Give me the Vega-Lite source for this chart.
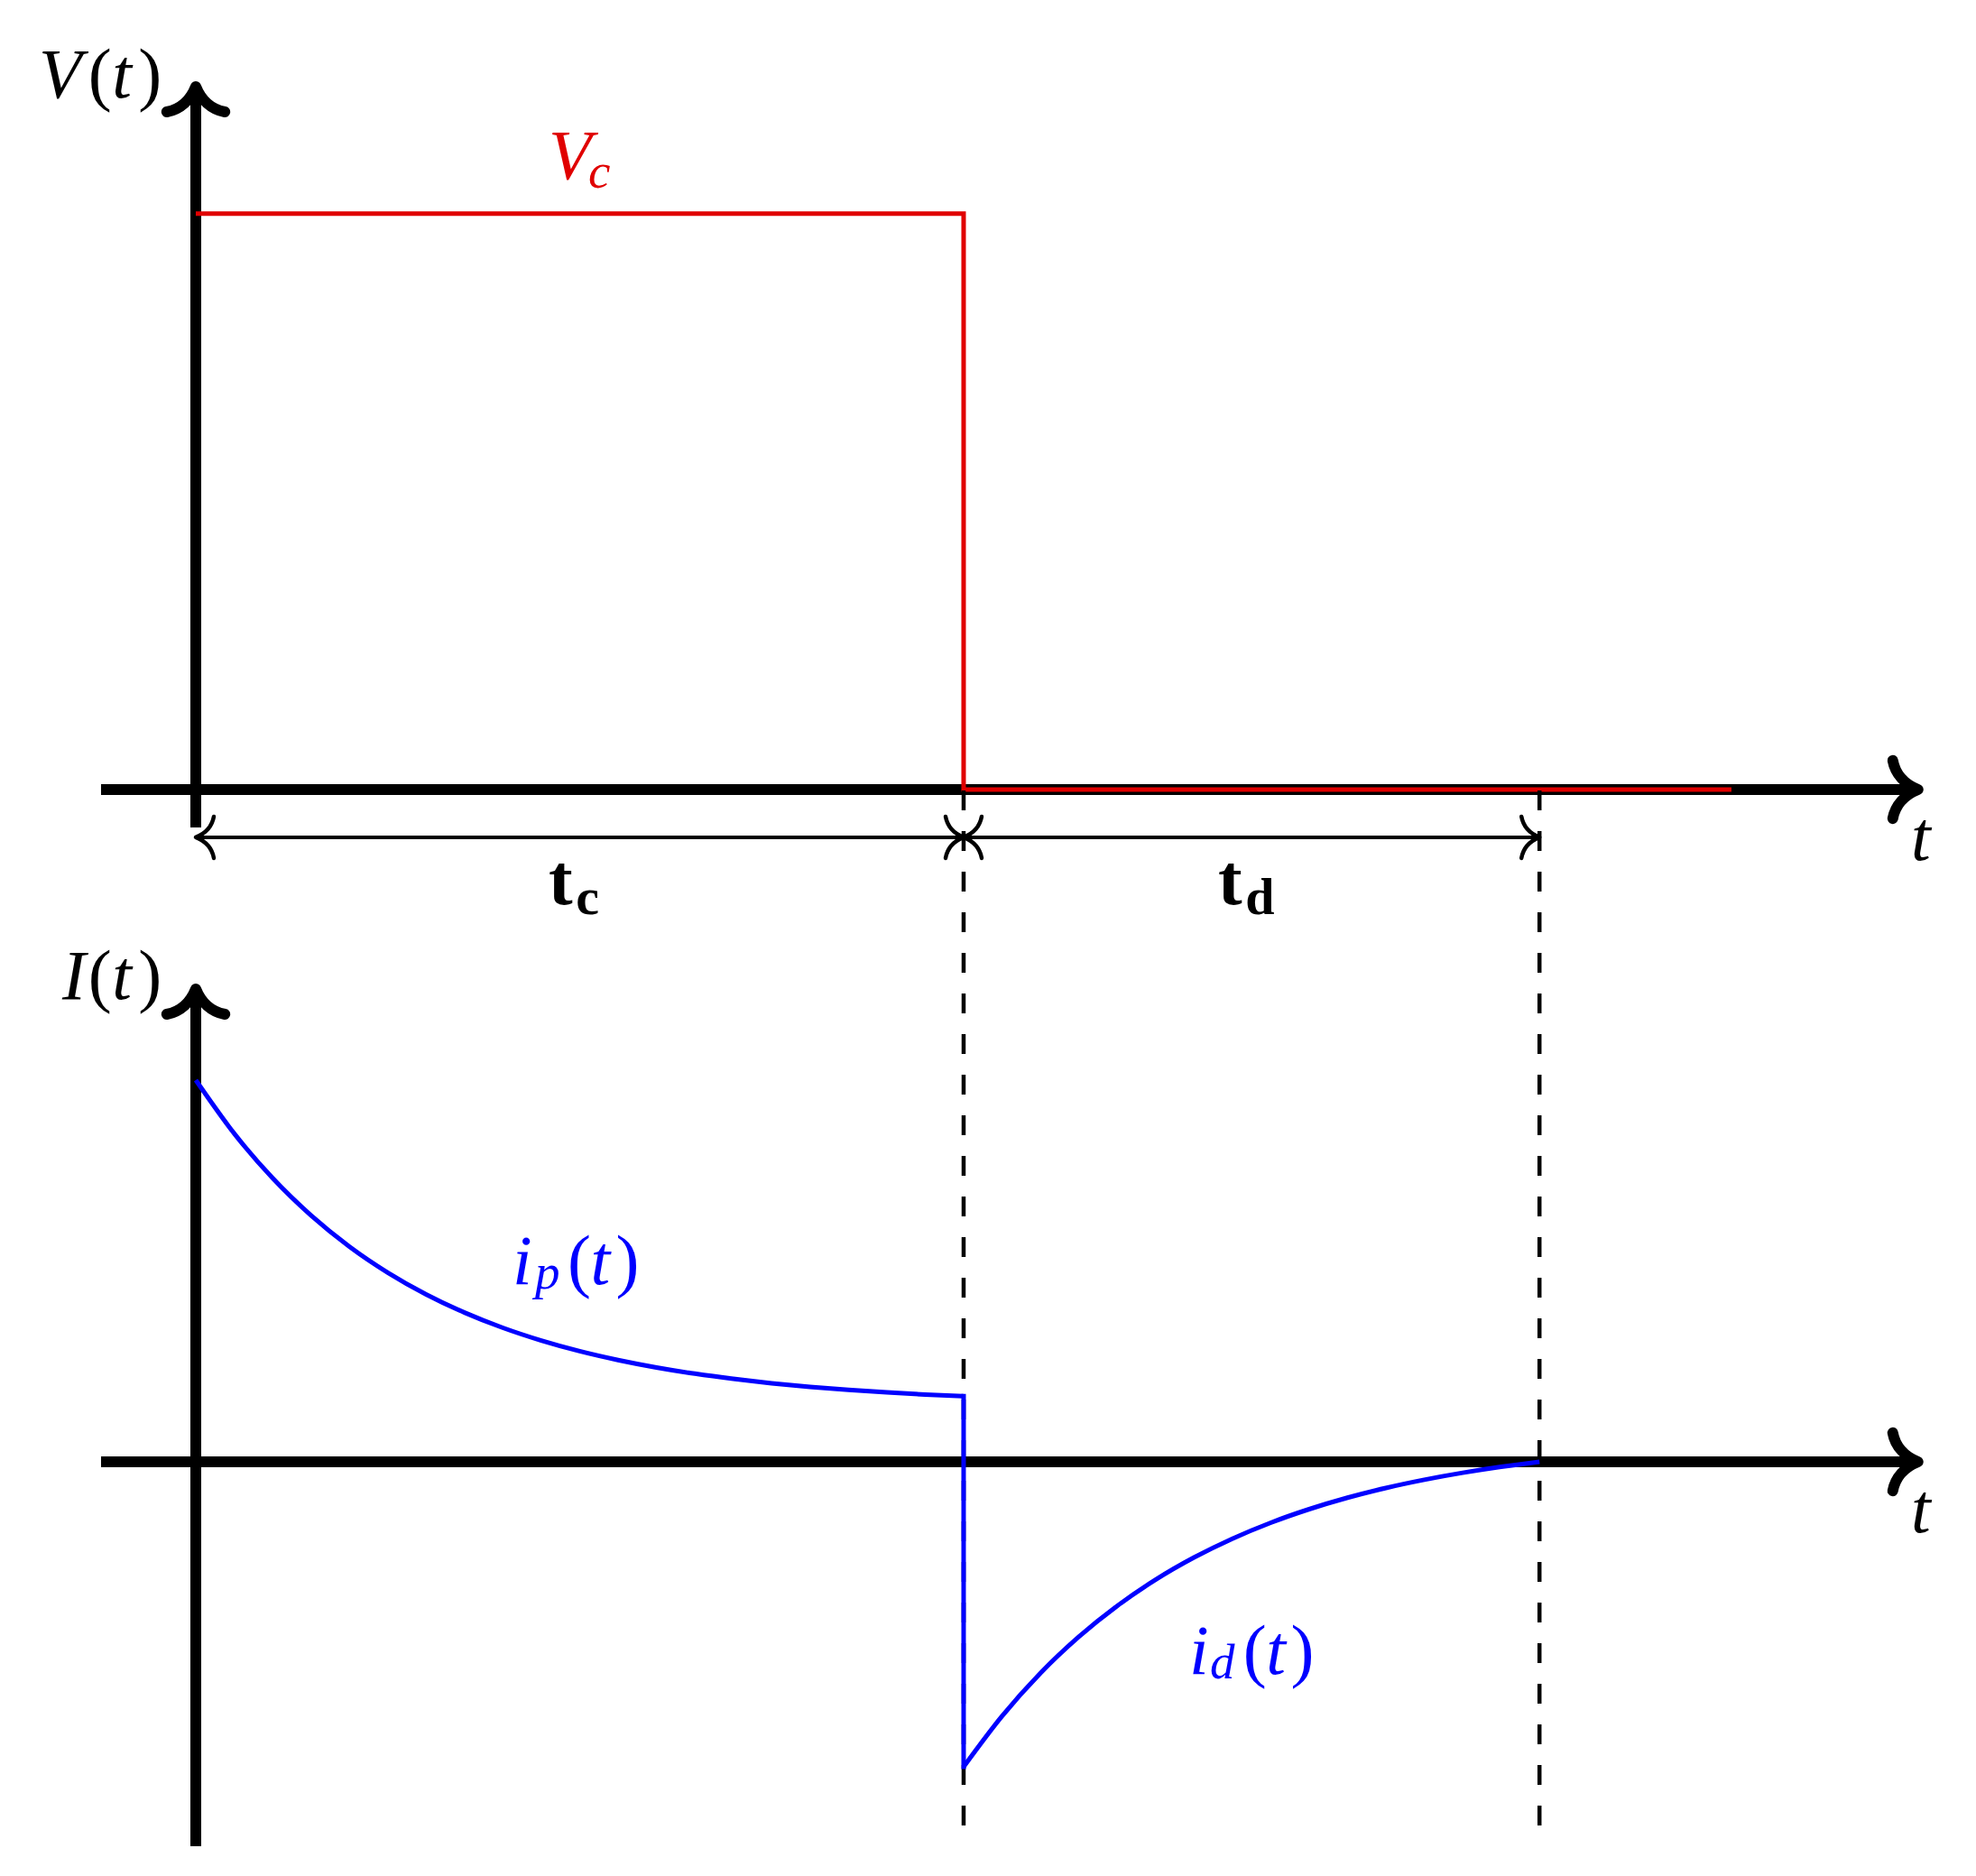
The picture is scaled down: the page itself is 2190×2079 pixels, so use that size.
{
  "$schema": "https://vega.github.io/schema/vega-lite/v6.json",
  "width": 2190,
  "height": 2079,
  "autosize": {"type": "fit", "contains": "padding"},
  "padding": 0,
  "background": "white",
  "config": {"view": {"stroke": null}},
  "layer": [
    {
      "layer": [
        {
          "data": {"values": [{"t0": -1.234, "t1": 22.4, "V0": 0, "V1": 0}, {"t0": 0, "t1": 0, "V0": -0.0658, "V1": 1.21}]},
          "mark": {"type": "rule", "color": "black", "strokeWidth": 12, "strokeCap": "butt"},
          "encoding": {
            "x": {"field": "t0", "type": "quantitative", "scale": {"domain": [-2.55, 23.185], "nice": false, "zero": false}, "axis": null},
            "x2": {"field": "t1"},
            "y": {"field": "V0", "type": "quantitative", "scale": {"domain": [-1.8863, 1.3708], "nice": false, "zero": false}, "axis": null},
            "y2": {"field": "V1"}
          }
        },
        {
          "data": {"values": [{"t0": 0, "t1": 10, "V": -0.083}, {"t0": 10, "t1": 17.5, "V": -0.083}]},
          "mark": {"type": "rule", "color": "black", "strokeWidth": 4, "strokeCap": "butt"},
          "encoding": {
            "x": {"field": "t0", "type": "quantitative", "scale": {"domain": [-2.55, 23.185], "nice": false, "zero": false}, "axis": null},
            "x2": {"field": "t1"},
            "y": {"field": "V", "type": "quantitative", "scale": {"domain": [-1.8863, 1.3708], "nice": false, "zero": false}, "axis": null}
          }
        },
        {
          "data": {"values": [{"i": 0, "t": 0, "V": 1}, {"i": 1, "t": 10, "V": 1}, {"i": 2, "t": 10, "V": 0}, {"i": 3, "t": 20, "V": 0}]},
          "mark": {"type": "line", "color": "#e00000", "strokeWidth": 5, "strokeJoin": "miter", "strokeCap": "butt"},
          "encoding": {
            "x": {"field": "t", "type": "quantitative", "scale": {"domain": [-2.55, 23.185], "nice": false, "zero": false}, "axis": null},
            "y": {"field": "V", "type": "quantitative", "scale": {"domain": [-1.8863, 1.3708], "nice": false, "zero": false}, "axis": null},
            "order": {"field": "i"}
          }
        },
        {
          "data": {"values": [{"t": 22.43, "V": 0}]},
          "mark": {"type": "point", "shape": "M -1 -1.15 C -0.9 -0.6 -0.5 -0.2 0 0 C -0.5 0.2 -0.9 0.6 -1 1.15", "filled": false, "stroke": "black", "strokeWidth": 12, "strokeCap": "round", "strokeJoin": "round", "size": 3136, "angle": 0, "opacity": 1},
          "encoding": {
            "x": {"field": "t", "type": "quantitative", "scale": {"domain": [-2.55, 23.185], "nice": false, "zero": false}, "axis": null},
            "y": {"field": "V", "type": "quantitative", "scale": {"domain": [-1.8863, 1.3708], "nice": false, "zero": false}, "axis": null}
          }
        },
        {
          "data": {"values": [{"t": 0, "V": 1.2204}]},
          "mark": {"type": "point", "shape": "M -1 -1.15 C -0.9 -0.6 -0.5 -0.2 0 0 C -0.5 0.2 -0.9 0.6 -1 1.15", "filled": false, "stroke": "black", "strokeWidth": 12, "strokeCap": "round", "strokeJoin": "round", "size": 3136, "angle": 270, "opacity": 1},
          "encoding": {
            "x": {"field": "t", "type": "quantitative", "scale": {"domain": [-2.55, 23.185], "nice": false, "zero": false}, "axis": null},
            "y": {"field": "V", "type": "quantitative", "scale": {"domain": [-1.8863, 1.3708], "nice": false, "zero": false}, "axis": null}
          }
        },
        {
          "data": {"values": [{"t": 10, "V": -0.083}, {"t": 17.5, "V": -0.083}]},
          "mark": {"type": "point", "shape": "M -1 -1.15 C -0.9 -0.6 -0.5 -0.2 0 0 C -0.5 0.2 -0.9 0.6 -1 1.15", "filled": false, "stroke": "black", "strokeWidth": 4.5, "strokeCap": "round", "strokeJoin": "round", "size": 1600, "angle": 0, "opacity": 1},
          "encoding": {
            "x": {"field": "t", "type": "quantitative", "scale": {"domain": [-2.55, 23.185], "nice": false, "zero": false}, "axis": null},
            "y": {"field": "V", "type": "quantitative", "scale": {"domain": [-1.8863, 1.3708], "nice": false, "zero": false}, "axis": null}
          }
        },
        {
          "data": {"values": [{"t": 0, "V": -0.083}, {"t": 10, "V": -0.083}]},
          "mark": {"type": "point", "shape": "M -1 -1.15 C -0.9 -0.6 -0.5 -0.2 0 0 C -0.5 0.2 -0.9 0.6 -1 1.15", "filled": false, "stroke": "black", "strokeWidth": 4.5, "strokeCap": "round", "strokeJoin": "round", "size": 1600, "angle": 180, "opacity": 1},
          "encoding": {
            "x": {"field": "t", "type": "quantitative", "scale": {"domain": [-2.55, 23.185], "nice": false, "zero": false}, "axis": null},
            "y": {"field": "V", "type": "quantitative", "scale": {"domain": [-1.8863, 1.3708], "nice": false, "zero": false}, "axis": null}
          }
        },
        {
          "data": {"values": [{"t": -2.045, "V": 1.2016, "label": "V"}, {"t": -1.09, "V": 1.2016, "label": "t"}, {"t": 22.34, "V": -0.1222, "label": "t"}]},
          "mark": {"type": "text", "font": "Liberation Serif", "fontStyle": "italic", "fontSize": 78, "color": "black", "align": "left", "baseline": "alphabetic"},
          "encoding": {
            "x": {"field": "t", "type": "quantitative", "scale": {"domain": [-2.55, 23.185], "nice": false, "zero": false}, "axis": null},
            "y": {"field": "V", "type": "quantitative", "scale": {"domain": [-1.8863, 1.3708], "nice": false, "zero": false}, "axis": null},
            "text": {"field": "label"}
          }
        },
        {
          "data": {"values": [{"t": -1.4, "V": 1.2016, "label": "("}, {"t": -0.75, "V": 1.2016, "label": ")"}]},
          "mark": {"type": "text", "font": "Liberation Serif", "fontSize": 78, "color": "black", "align": "left", "baseline": "alphabetic"},
          "encoding": {
            "x": {"field": "t", "type": "quantitative", "scale": {"domain": [-2.55, 23.185], "nice": false, "zero": false}, "axis": null},
            "y": {"field": "V", "type": "quantitative", "scale": {"domain": [-1.8863, 1.3708], "nice": false, "zero": false}, "axis": null},
            "text": {"field": "label"}
          }
        },
        {
          "data": {"values": [{"t": 4.595, "V": 1.0606, "label": "V"}]},
          "mark": {"type": "text", "font": "Liberation Serif", "fontStyle": "italic", "fontSize": 78, "color": "#e00000", "align": "left", "baseline": "alphabetic"},
          "encoding": {
            "x": {"field": "t", "type": "quantitative", "scale": {"domain": [-2.55, 23.185], "nice": false, "zero": false}, "axis": null},
            "y": {"field": "V", "type": "quantitative", "scale": {"domain": [-1.8863, 1.3708], "nice": false, "zero": false}, "axis": null},
            "text": {"field": "label"}
          }
        },
        {
          "data": {"values": [{"t": 5.112, "V": 1.045, "label": "c"}]},
          "mark": {"type": "text", "font": "Liberation Serif", "fontStyle": "italic", "fontSize": 55, "color": "#e00000", "align": "left", "baseline": "alphabetic"},
          "encoding": {
            "x": {"field": "t", "type": "quantitative", "scale": {"domain": [-2.55, 23.185], "nice": false, "zero": false}, "axis": null},
            "y": {"field": "V", "type": "quantitative", "scale": {"domain": [-1.8863, 1.3708], "nice": false, "zero": false}, "axis": null},
            "text": {"field": "label"}
          }
        },
        {
          "data": {"values": [{"t": 4.595, "V": -0.199, "label": "t"}, {"t": 13.314, "V": -0.199, "label": "t"}]},
          "mark": {"type": "text", "font": "Liberation Serif", "fontWeight": "bold", "fontSize": 80, "color": "black", "align": "left", "baseline": "alphabetic"},
          "encoding": {
            "x": {"field": "t", "type": "quantitative", "scale": {"domain": [-2.55, 23.185], "nice": false, "zero": false}, "axis": null},
            "y": {"field": "V", "type": "quantitative", "scale": {"domain": [-1.8863, 1.3708], "nice": false, "zero": false}, "axis": null},
            "text": {"field": "label"}
          }
        },
        {
          "data": {"values": [{"t": 4.95, "V": -0.2162, "label": "c"}, {"t": 13.67, "V": -0.2162, "label": "d"}]},
          "mark": {"type": "text", "font": "Liberation Serif", "fontWeight": "bold", "fontSize": 58, "color": "black", "align": "left", "baseline": "alphabetic"},
          "encoding": {
            "x": {"field": "t", "type": "quantitative", "scale": {"domain": [-2.55, 23.185], "nice": false, "zero": false}, "axis": null},
            "y": {"field": "V", "type": "quantitative", "scale": {"domain": [-1.8863, 1.3708], "nice": false, "zero": false}, "axis": null},
            "text": {"field": "label"}
          }
        }
      ]
    },
    {
      "layer": [
        {
          "data": {"values": [{"t0": -1.234, "t1": 22.4, "I0": 0, "I1": 0}, {"t0": 0, "t1": 0, "I0": -1.007, "I1": 1.23}]},
          "mark": {"type": "rule", "color": "black", "strokeWidth": 12, "strokeCap": "butt"},
          "encoding": {
            "x": {"field": "t0", "type": "quantitative", "scale": {"domain": [-2.55, 23.185], "nice": false, "zero": false}, "axis": null},
            "x2": {"field": "t1"},
            "y": {"field": "I0", "type": "quantitative", "scale": {"domain": [-1.0851, 3.8298], "nice": false, "zero": false}, "axis": null},
            "y2": {"field": "I1"}
          }
        },
        {
          "data": {"values": [{"t": 10, "I0": 1.7589, "I1": -1.007}, {"t": 17.5, "I0": 1.7589, "I1": -1.007}]},
          "mark": {"type": "rule", "color": "black", "strokeWidth": 4.5, "strokeCap": "butt", "strokeDash": [22, 23]},
          "encoding": {
            "x": {"field": "t", "type": "quantitative", "scale": {"domain": [-2.55, 23.185], "nice": false, "zero": false}, "axis": null},
            "y": {"field": "I0", "type": "quantitative", "scale": {"domain": [-1.0851, 3.8298], "nice": false, "zero": false}, "axis": null},
            "y2": {"field": "I1"}
          }
        },
        {
          "data": {"values": [{"t": 10, "I0": 0.1717, "I1": -0.799}]},
          "mark": {"type": "rule", "color": "#0000ff", "strokeWidth": 5, "strokeCap": "square"},
          "encoding": {
            "x": {"field": "t", "type": "quantitative", "scale": {"domain": [-2.55, 23.185], "nice": false, "zero": false}, "axis": null},
            "y": {"field": "I0", "type": "quantitative", "scale": {"domain": [-1.0851, 3.8298], "nice": false, "zero": false}, "axis": null},
            "y2": {"field": "I1"}
          }
        },
        {
          "data": {"values": [
            {"seg": "p", "t": 0, "I": 1.0},
            {"seg": "p", "t": 0.5, "I": 0.8602},
            {"seg": "p", "t": 1, "I": 0.7434},
            {"seg": "p", "t": 1.5, "I": 0.6457},
            {"seg": "p", "t": 2, "I": 0.564},
            {"seg": "p", "t": 2.5, "I": 0.4958},
            {"seg": "p", "t": 3, "I": 0.4387},
            {"seg": "p", "t": 3.5, "I": 0.391},
            {"seg": "p", "t": 4, "I": 0.3511},
            {"seg": "p", "t": 4.5, "I": 0.3178},
            {"seg": "p", "t": 5, "I": 0.2899},
            {"seg": "p", "t": 5.5, "I": 0.2667},
            {"seg": "p", "t": 6, "I": 0.2472},
            {"seg": "p", "t": 6.5, "I": 0.2309},
            {"seg": "p", "t": 7, "I": 0.2173},
            {"seg": "p", "t": 7.5, "I": 0.2059},
            {"seg": "p", "t": 8, "I": 0.1964},
            {"seg": "p", "t": 8.5, "I": 0.1885},
            {"seg": "p", "t": 9, "I": 0.1818},
            {"seg": "p", "t": 9.5, "I": 0.1763},
            {"seg": "p", "t": 10, "I": 0.1717},
            {"seg": "d", "t": 10, "I": -0.799},
            {"seg": "d", "t": 10.5, "I": -0.6663},
            {"seg": "d", "t": 11, "I": -0.5537},
            {"seg": "d", "t": 11.5, "I": -0.4584},
            {"seg": "d", "t": 12, "I": -0.3775},
            {"seg": "d", "t": 12.5, "I": -0.3088},
            {"seg": "d", "t": 13, "I": -0.2507},
            {"seg": "d", "t": 13.5, "I": -0.2014},
            {"seg": "d", "t": 14, "I": -0.1595},
            {"seg": "d", "t": 14.5, "I": -0.1241},
            {"seg": "d", "t": 15, "I": -0.094},
            {"seg": "d", "t": 15.5, "I": -0.0685},
            {"seg": "d", "t": 16, "I": -0.047},
            {"seg": "d", "t": 16.5, "I": -0.0287},
            {"seg": "d", "t": 17, "I": -0.0131},
            {"seg": "d", "t": 17.5, "I": 0.0}
          ]},
          "mark": {"type": "line", "color": "#0000ff", "strokeWidth": 5, "strokeJoin": "miter", "strokeCap": "butt", "interpolate": "monotone"},
          "encoding": {
            "x": {"field": "t", "type": "quantitative", "scale": {"domain": [-2.55, 23.185], "nice": false, "zero": false}, "axis": null},
            "y": {"field": "I", "type": "quantitative", "scale": {"domain": [-1.0851, 3.8298], "nice": false, "zero": false}, "axis": null},
            "detail": {"field": "seg"}
          }
        },
        {
          "data": {"values": [{"t": 22.43, "I": 0}]},
          "mark": {"type": "point", "shape": "M -1 -1.15 C -0.9 -0.6 -0.5 -0.2 0 0 C -0.5 0.2 -0.9 0.6 -1 1.15", "filled": false, "stroke": "black", "strokeWidth": 12, "strokeCap": "round", "strokeJoin": "round", "size": 3136, "angle": 0, "opacity": 1},
          "encoding": {
            "x": {"field": "t", "type": "quantitative", "scale": {"domain": [-2.55, 23.185], "nice": false, "zero": false}, "axis": null},
            "y": {"field": "I", "type": "quantitative", "scale": {"domain": [-1.0851, 3.8298], "nice": false, "zero": false}, "axis": null}
          }
        },
        {
          "data": {"values": [{"t": 0, "I": 1.2388}]},
          "mark": {"type": "point", "shape": "M -1 -1.15 C -0.9 -0.6 -0.5 -0.2 0 0 C -0.5 0.2 -0.9 0.6 -1 1.15", "filled": false, "stroke": "black", "strokeWidth": 12, "strokeCap": "round", "strokeJoin": "round", "size": 3136, "angle": 270, "opacity": 1},
          "encoding": {
            "x": {"field": "t", "type": "quantitative", "scale": {"domain": [-2.55, 23.185], "nice": false, "zero": false}, "axis": null},
            "y": {"field": "I", "type": "quantitative", "scale": {"domain": [-1.0851, 3.8298], "nice": false, "zero": false}, "axis": null}
          }
        },
        {
          "data": {"values": [{"t": -1.74, "I": 1.2128, "label": "I"}, {"t": -1.09, "I": 1.2128, "label": "t"}, {"t": 22.34, "I": -0.1844, "label": "t"}]},
          "mark": {"type": "text", "font": "Liberation Serif", "fontStyle": "italic", "fontSize": 78, "color": "black", "align": "left", "baseline": "alphabetic"},
          "encoding": {
            "x": {"field": "t", "type": "quantitative", "scale": {"domain": [-2.55, 23.185], "nice": false, "zero": false}, "axis": null},
            "y": {"field": "I", "type": "quantitative", "scale": {"domain": [-1.0851, 3.8298], "nice": false, "zero": false}, "axis": null},
            "text": {"field": "label"}
          }
        },
        {
          "data": {"values": [{"t": -1.4, "I": 1.2128, "label": "("}, {"t": -0.75, "I": 1.2128, "label": ")"}]},
          "mark": {"type": "text", "font": "Liberation Serif", "fontSize": 78, "color": "black", "align": "left", "baseline": "alphabetic"},
          "encoding": {
            "x": {"field": "t", "type": "quantitative", "scale": {"domain": [-2.55, 23.185], "nice": false, "zero": false}, "axis": null},
            "y": {"field": "I", "type": "quantitative", "scale": {"domain": [-1.0851, 3.8298], "nice": false, "zero": false}, "axis": null},
            "text": {"field": "label"}
          }
        },
        {
          "data": {"values": [{"t": 4.125, "I": 0.4657, "label": "i"}, {"t": 5.14, "I": 0.4657, "label": "t"}, {"t": 12.938, "I": -0.5556, "label": "i"}, {"t": 13.94, "I": -0.5556, "label": "t"}]},
          "mark": {"type": "text", "font": "Liberation Serif", "fontStyle": "italic", "fontSize": 78, "color": "#0000ff", "align": "left", "baseline": "alphabetic"},
          "encoding": {
            "x": {"field": "t", "type": "quantitative", "scale": {"domain": [-2.55, 23.185], "nice": false, "zero": false}, "axis": null},
            "y": {"field": "I", "type": "quantitative", "scale": {"domain": [-1.0851, 3.8298], "nice": false, "zero": false}, "axis": null},
            "text": {"field": "label"}
          }
        },
        {
          "data": {"values": [{"t": 4.84, "I": 0.4657, "label": "("}, {"t": 5.47, "I": 0.4657, "label": ")"}, {"t": 13.64, "I": -0.5556, "label": "("}, {"t": 14.26, "I": -0.5556, "label": ")"}]},
          "mark": {"type": "text", "font": "Liberation Serif", "fontSize": 78, "color": "#0000ff", "align": "left", "baseline": "alphabetic"},
          "encoding": {
            "x": {"field": "t", "type": "quantitative", "scale": {"domain": [-2.55, 23.185], "nice": false, "zero": false}, "axis": null},
            "y": {"field": "I", "type": "quantitative", "scale": {"domain": [-1.0851, 3.8298], "nice": false, "zero": false}, "axis": null},
            "text": {"field": "label"}
          }
        },
        {
          "data": {"values": [{"t": 4.418, "I": 0.4539, "label": "p"}, {"t": 13.208, "I": -0.567, "label": "d"}]},
          "mark": {"type": "text", "font": "Liberation Serif", "fontStyle": "italic", "fontSize": 55, "color": "#0000ff", "align": "left", "baseline": "alphabetic"},
          "encoding": {
            "x": {"field": "t", "type": "quantitative", "scale": {"domain": [-2.55, 23.185], "nice": false, "zero": false}, "axis": null},
            "y": {"field": "I", "type": "quantitative", "scale": {"domain": [-1.0851, 3.8298], "nice": false, "zero": false}, "axis": null},
            "text": {"field": "label"}
          }
        }
      ]
    }
  ],
  "resolve": {"scale": {"y": "independent"}}
}
